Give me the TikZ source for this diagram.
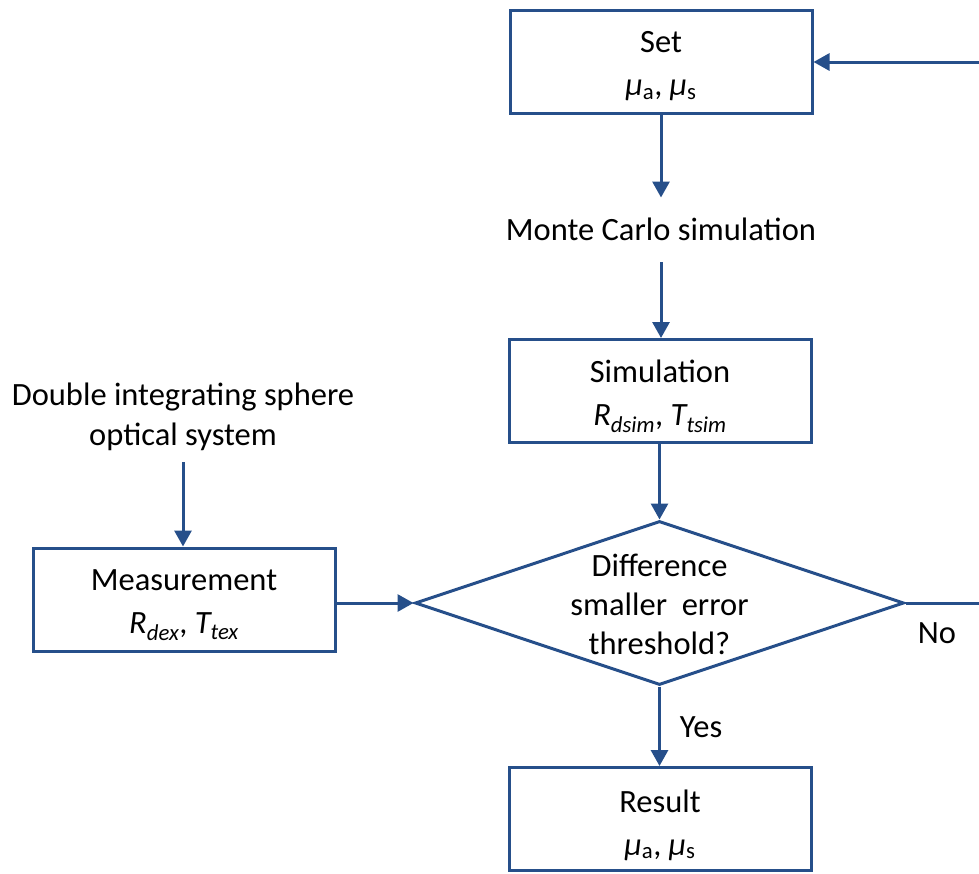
\documentclass[tikz,border=0pt]{standalone}
\usepackage{fontspec}
\setmainfont{Carlito}
\usetikzlibrary{arrows.meta,shapes.geometric}
\definecolor{fblue}{RGB}{38,79,138}
\tikzset{
  box/.style={draw=fblue,line width=3pt,minimum width=302pt,minimum height=103pt,inner sep=0pt,align=center,font=\fontsize{32.5}{43}\selectfont},
  boxtext/.style={inner sep=0pt,align=center,font=\fontsize{32.5}{43}\selectfont},
  lbl/.style={inner sep=0pt,align=center,font=\fontsize{32.5}{40}\selectfont},
  conn/.style={draw=fblue,line width=3pt,-{Triangle[length=16pt,width=17pt]}}
}
\newcommand{\mysub}[1]{\textsubscript{#1}}
\begin{document}
\begin{tikzpicture}[x=1pt,y=-1pt]
\useasboundingbox (0,0) rectangle (979,873);
\clip (0,0) rectangle (979,873);
\node[box] (set) at (661,61.5) {};
\node[boxtext] (sett) at (661,66.5) {Set\\\textit{μ}\mysub{a}, \textit{μ}\mysub{s}};
\node[lbl] (mc) at (661,229) {Monte Carlo simulation};
\node[box] (sim) at (660,391) {};
\node[boxtext] (simt) at (660,396.5) {Simulation\\\textit{R\mysub{dsim}}, \textit{T\mysub{tsim}}};
\node[draw=fblue,line width=3pt,diamond,aspect=3,minimum width=489pt,minimum height=164pt,inner sep=0pt] (dia) at (659.5,603) {};
\node[lbl,font=\fontsize{32.5}{39}\selectfont] (diat) at (659.5,604) {Difference\\smaller\ \ error\\threshold?};
\node[box] (res) at (660,819) {};
\node[boxtext] (rest) at (660,825) {Result\\\textit{μ}\mysub{a}, \textit{μ}\mysub{s}};
\node[box] (meas) at (184,599.5) {};
\node[boxtext] (meast) at (184,605.5) {Measurement\\\textit{R\mysub{dex}}, \textit{T\mysub{tex}}};
\node[lbl] (dis) at (183,417) {Double integrating sphere\\optical system};
\node[lbl] (yes) at (701,727) {Yes};
\node[lbl] (no) at (937,633) {No};
\coordinate (rb) at (1000,603);
\coordinate (rt) at (1000,62);
\draw[conn] (set.south) -- ++(0,83);
\draw[conn] (661,262) -- (sim.north -| 661,0);
\draw[conn] (sim.south -| 659.5,0) -- (dia.north);
\draw[conn] (dia.south) -- (res.north -| dia.south);
\draw[conn] (dis.south |- 0,462) -- (meas.north -| dis.south);
\draw[conn] (meas.east |- dia.west) -- (dia.west);
\draw[conn] (dia.east) -- (rb) -- (rt) -- (set.east |- rt);
\end{tikzpicture}
\end{document}
